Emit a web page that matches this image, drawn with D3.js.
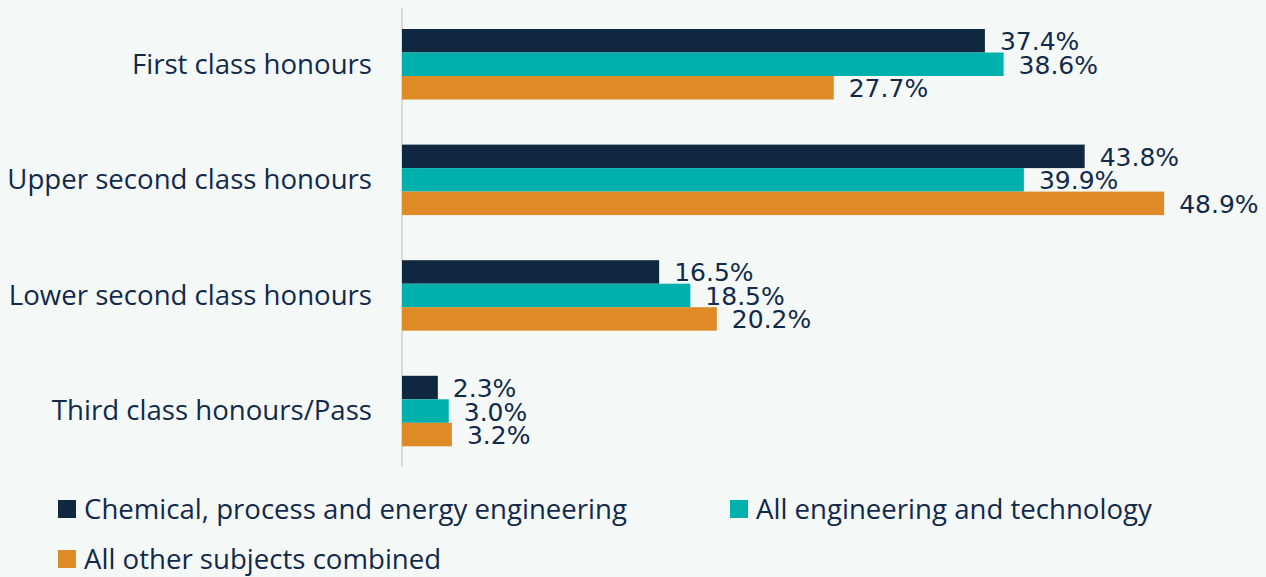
<!DOCTYPE html>
<html><head><meta charset="utf-8">
<script src="https://cdn.jsdelivr.net/npm/d3@7"></script>
<style>
html,body{margin:0;padding:0;background:#f4f9f8;}
svg{display:block;}
</style></head>
<body>
<svg id="chart" width="1266" height="577"></svg>
<script>
const categories = ["First class honours","Upper second class honours","Lower second class honours","Third class honours/Pass"];
const seriesNames = ["Chemical, process and energy engineering","All engineering and technology","All other subjects combined"];
const chemical = [37.4, 43.8, 16.5, 2.3];
const allEngineering = [38.6, 39.9, 18.5, 3.0];
const otherSubjects = [27.7, 48.9, 20.2, 3.2];
const colors = ["#0f2840","#00b0ad","#de8a26"];

const series = [chemical, allEngineering, otherSubjects];
const svg = d3.select("#chart");
const textColor = "#13294a";
const catFont = "'Open Sans', sans-serif";
const valFont = "'DejaVu Sans', sans-serif";

const x = d3.scaleLinear().domain([0, 50]).range([402, 1181.3]);
const yBand = d3.scaleBand().domain(categories).range([29, 29 + 4*115.6]).paddingInner(0).paddingOuter(0);
const y1 = d3.scaleBand().domain(d3.range(3)).range([0, 70.5]);

// axis line
svg.append("line").attr("x1", 402).attr("x2", 402).attr("y1", 8).attr("y2", 467)
  .attr("stroke", "#d9d9d9").attr("stroke-width", 2);

const g = svg.append("g");
categories.forEach((c, ci) => {
  series.forEach((s, si) => {
    const yy = yBand(c) + y1(si);
    g.append("rect").attr("x", x(0)).attr("y", yy)
      .attr("width", x(s[ci]) - x(0)).attr("height", y1.bandwidth())
      .attr("fill", colors[si]);
    g.append("text").attr("x", x(s[ci]) + 15).attr("y", yy + y1.bandwidth()/2 + 1)
      .attr("dominant-baseline", "central")
      .attr("font-family", valFont).attr("font-size", 25).attr("fill", textColor)
      .text(s[ci].toFixed(1) + "%");
  });
  g.append("text").attr("x", 372).attr("y", yBand(c) + 33.5)
    .attr("text-anchor", "end").attr("dominant-baseline", "central")
    .attr("font-family", catFont).attr("font-size", 27.6).attr("fill", textColor)
    .text(c);
});

// legend
const legendPos = [[58, 508], [730, 508], [58, 558]];
seriesNames.forEach((n, i) => {
  const [lx, ly] = legendPos[i];
  svg.append("rect").attr("x", lx).attr("y", ly - 8).attr("width", 18).attr("height", 18).attr("fill", colors[i]);
  svg.append("text").attr("x", lx + 26).attr("y", ly)
    .attr("dominant-baseline", "central")
    .attr("font-family", catFont).attr("font-size", 27.6).attr("fill", textColor)
    .text(n);
});
</script>
</body></html>
